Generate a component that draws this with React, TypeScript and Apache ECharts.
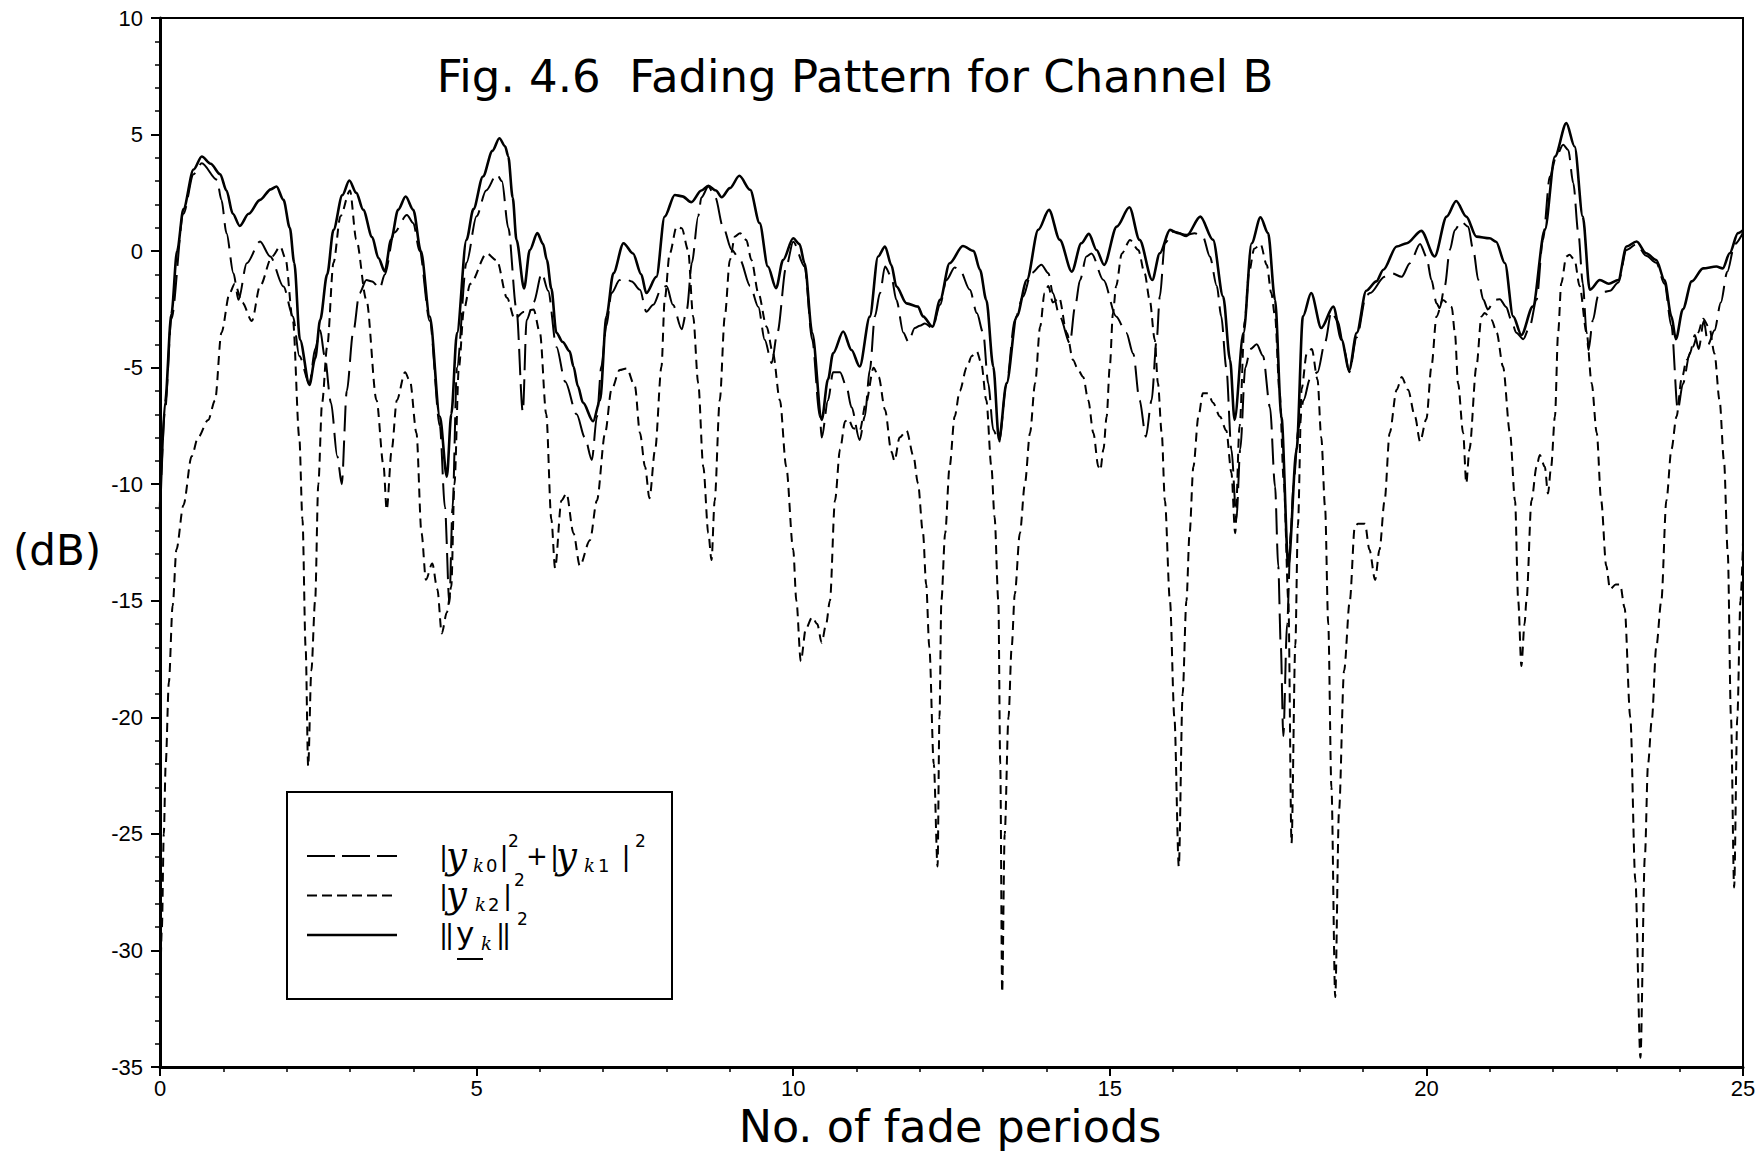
import React, { useEffect, useRef } from 'react';
import * as echarts from 'echarts';

// ---------- axis ranges ----------
const X_MIN = 0;
const X_MAX = 25;
const X_STEP = 5;
const Y_MIN = -35;
const Y_MAX = 10;
const Y_STEP = 5;

// ---------- texts ----------
const TITLE_TEXT = 'Fig. 4.6\u00a0 Fading Pattern for Channel B';
const X_NAME = 'No. of fade periods';
const Y_NAME = '(dB)';

// ---------- data: [fade periods, dB] ----------
// ||y_k||^2  (solid)
const TOTAL_NORM: [number, number][] = [
  [0, -11.1], [0.08, -6.5], [0.18, -2.7], [0.27, 0], [0.37, 1.8], [0.53, 3.5], [0.66, 4.06], [0.8, 3.75],
  [0.95, 3.3], [1.05, 2.6], [1.15, 1.6], [1.26, 1.08], [1.4, 1.6], [1.58, 2.2], [1.75, 2.65], [1.84, 2.77],
  [1.95, 2.2], [2.05, 1.0], [2.12, -0.5], [2.21, -3.8], [2.36, -5.74], [2.45, -4.6], [2.53, -2.95], [2.64, -1.0],
  [2.74, 0.91], [2.88, 2.4], [2.99, 3.03], [3.1, 2.5], [3.21, 1.77], [3.35, 0.6], [3.45, -0.3], [3.55, -0.87],
  [3.65, 0.5], [3.76, 1.77], [3.88, 2.34], [4.0, 1.77], [4.12, 0.0], [4.26, -2.81], [4.42, -7.1], [4.53, -9.68],
  [4.6, -7], [4.69, -3.52], [4.84, 0.48], [4.95, 1.8], [5.1, 3.2], [5.25, 4.3], [5.36, 4.84], [5.45, 4.5],
  [5.5, 4.06], [5.57, 2.3], [5.63, 0.48], [5.75, -1.6], [5.84, 0.05], [5.96, 0.77], [6.05, 0.3], [6.11, -0.38],
  [6.18, -1.6], [6.26, -3.5], [6.36, -3.9], [6.47, -4.3], [6.53, -4.95], [6.6, -5.8], [6.68, -6.5], [6.84, -7.3],
  [6.95, -6.4], [7.05, -2.8], [7.16, -0.95], [7.32, 0.34], [7.47, -0.1], [7.6, -1.0], [7.68, -1.8], [7.84, -1.1],
  [7.97, 1.48], [8.13, 2.41], [8.25, 2.35], [8.39, 2.1], [8.55, 2.6], [8.66, 2.8], [8.78, 2.6], [8.87, 2.31],
  [9.0, 2.7], [9.15, 3.23], [9.32, 2.63], [9.47, 1.2], [9.6, -0.66], [9.73, -1.59], [9.84, -0.38], [10.0, 0.55],
  [10.1, 0.3], [10.18, -0.52], [10.3, -3.5], [10.45, -7.24], [10.55, -5.5], [10.63, -4.38], [10.79, -3.45],
  [10.92, -4.24], [11.05, -4.95], [11.21, -2.81], [11.34, -0.23], [11.45, 0.2], [11.55, -0.6], [11.63, -1.52],
  [11.79, -2.24], [11.97, -2.38], [12.05, -2.8], [12.2, -3.24], [12.32, -2.09], [12.47, -0.52], [12.68, 0.22],
  [12.85, 0.0], [12.95, -0.8], [13.05, -2.1], [13.16, -4.95], [13.25, -8.1], [13.37, -5.67], [13.53, -2.8],
  [13.69, -1.24], [13.87, 0.91], [14.04, 1.77], [14.21, 0.48], [14.4, -0.88], [14.55, 0.34], [14.67, 0.74],
  [14.79, 0.05], [14.91, -0.59], [15.11, 1.05], [15.31, 1.88], [15.47, 0.48], [15.67, -1.24], [15.79, -0.09],
  [15.95, 0.91], [16.08, 0.77], [16.21, 0.65], [16.43, 1.48], [16.63, 0.48], [16.79, -1.95], [16.9, -4.67],
  [16.97, -7.24], [17.11, -3.52], [17.24, 0.34], [17.38, 1.45], [17.5, 0.77], [17.61, -2.09], [17.71, -7.1],
  [17.82, -13.5], [17.95, -8.5], [18.05, -2.8], [18.18, -1.8], [18.34, -3.3], [18.53, -2.38], [18.66, -3.8],
  [18.78, -5.1], [18.9, -3.5], [19.05, -1.7], [19.21, -1.3], [19.32, -0.8], [19.53, 0.2], [19.69, 0.34],
  [19.92, 0.87], [20.13, -0.23], [20.32, 1.48], [20.47, 2.15], [20.63, 1.48], [20.79, 0.62], [21.0, 0.55],
  [21.1, 0.4], [21.24, -0.52], [21.37, -2.8], [21.5, -3.6], [21.68, -2.38], [21.87, 0.91], [22.03, 4.06],
  [22.21, 5.49], [22.34, 4.49], [22.47, 1.48], [22.58, -1.66], [22.74, -1.24], [22.88, -1.4], [23.03, -1.24],
  [23.16, 0.2], [23.32, 0.41], [23.47, -0.09], [23.63, -0.38], [23.76, -1.24], [23.87, -2.8], [23.94, -3.78],
  [24.05, -2.5], [24.19, -1.3], [24.37, -0.74], [24.58, -0.66], [24.68, -0.74], [24.79, -0.09], [24.92, 0.77],
  [25, 0.9],
];

// |y_k0|^2 + |y_k1|^2  (long dashes)
const SUM_K0_K1: [number, number][] = [
  [0, -11.1], [0.08, -6.8], [0.18, -2.9], [0.37, 1.6], [0.53, 3.3], [0.66, 3.77], [0.9, 3.06], [0.97, 2.2],
  [1.05, 0.77], [1.16, -0.95], [1.24, -2.09], [1.37, -0.52], [1.58, 0.41], [1.74, -0.23], [1.95, -1.52],
  [2.1, -2.81], [2.2, -4.5], [2.36, -5.7], [2.45, -4.2], [2.53, -3.4], [2.6, -4.5], [2.7, -6.5], [2.8, -8.8],
  [2.87, -10.0], [2.95, -6.0], [3.05, -3.5], [3.15, -1.8], [3.26, -1.24], [3.35, -1.3], [3.47, -1.6],
  [3.55, -1.0], [3.7, 0.8], [3.9, 1.55], [4.0, 1.2], [4.1, 0.0], [4.26, -3.0], [4.42, -7.5], [4.5, -11],
  [4.57, -15.1], [4.62, -11], [4.69, -5.0], [4.84, -0.5], [5.0, 1.5], [5.15, 2.6], [5.32, 3.3], [5.4, 3.0],
  [5.5, 1.0], [5.63, -2.5], [5.73, -6.9], [5.79, -2.95], [5.9, -2.2], [6.03, -0.95], [6.13, -1.7], [6.26, -4.1],
  [6.4, -5.6], [6.58, -7.0], [6.71, -8.0], [6.82, -8.96], [6.9, -7.1], [6.97, -4.95], [7.05, -3.2], [7.13, -1.8],
  [7.26, -1.24], [7.34, -1.16], [7.45, -1.3], [7.58, -1.66], [7.68, -2.6], [7.79, -2.3], [7.92, -1.6],
  [8.0, -1.5], [8.1, -2.3], [8.24, -3.35], [8.32, -2.5], [8.4, -0.5], [8.5, 1.5], [8.55, 2.3], [8.66, 2.77],
  [8.77, 2.3], [8.89, 1.05], [9.03, 0.05], [9.16, -0.38], [9.32, -1.5], [9.45, -2.4], [9.55, -3.8],
  [9.66, -4.8], [9.75, -3.5], [9.89, -0.66], [10.0, 0.4], [10.18, -0.66], [10.3, -3.8], [10.42, -7.1],
  [10.45, -8.0], [10.55, -6.4], [10.63, -5.2], [10.74, -5.2], [10.84, -5.8], [10.92, -6.7], [11.05, -8.1],
  [11.13, -7.1], [11.21, -5.1], [11.29, -2.8], [11.37, -1.8], [11.45, -0.66], [11.55, -1.1], [11.63, -2.1],
  [11.74, -3.5], [11.82, -3.9], [11.92, -3.3], [12.0, -3.2], [12.08, -3.1], [12.2, -3.3], [12.32, -2.3],
  [12.42, -1.24], [12.55, -0.7], [12.63, -0.8], [12.79, -1.66], [12.9, -2.66], [13.0, -3.5], [13.08, -5.67],
  [13.16, -7.67], [13.25, -8.2], [13.37, -5.67], [13.5, -2.95], [13.63, -1.95], [13.76, -0.95], [13.92, -0.59],
  [14.03, -0.95], [14.1, -1.8], [14.21, -2.81], [14.37, -3.95], [14.45, -2.4], [14.53, -1.24], [14.63, -0.23],
  [14.71, -0.1], [14.9, -1.24], [15.1, -2.8], [15.26, -3.5], [15.37, -4.4], [15.47, -6.4], [15.57, -7.96],
  [15.66, -6.4], [15.74, -3.8], [15.79, -1.95], [15.87, 0.34], [16.0, 0.84], [16.21, 0.7], [16.34, 0.77],
  [16.47, 0.62], [16.58, -0.23], [16.69, -1.5], [16.76, -2.8], [16.84, -5.0], [16.92, -8.5], [17.0, -11.5],
  [17.06, -8.5], [17.14, -5.0], [17.22, -4.2], [17.32, -4.0], [17.42, -4.5], [17.53, -6.7], [17.61, -10.1],
  [17.66, -13.5], [17.7, -16.9], [17.74, -20.8], [17.8, -16], [17.86, -12], [17.9, -10], [17.98, -7.6],
  [18.06, -6.4], [18.16, -5.5], [18.28, -5.2], [18.4, -3.9], [18.5, -2.6], [18.6, -3.0], [18.7, -4.2],
  [18.78, -5.2], [18.9, -3.7], [19.05, -1.9], [19.11, -1.8], [19.34, -1.1], [19.45, -0.95], [19.61, -1.1],
  [19.74, -0.52], [19.9, 0.31], [20.0, -0.23], [20.08, -1.24], [20.16, -2.24], [20.21, -2.45], [20.29, -1.5],
  [20.37, 0.05], [20.45, 0.91], [20.55, 1.27], [20.66, 1.05], [20.74, 0.05], [20.82, -1.24], [20.9, -2.09],
  [20.97, -2.5], [21.08, -2.09], [21.16, -2.06], [21.26, -2.4], [21.34, -2.95], [21.42, -3.5], [21.53, -3.78],
  [21.63, -3.24], [21.74, -2.09], [21.84, 0.48], [21.95, 3.2], [22.05, 4.06], [22.16, 4.56], [22.24, 4.34],
  [22.32, 2.91], [22.4, 0.77], [22.47, -1.38], [22.53, -3.5], [22.56, -4.24], [22.63, -2.95], [22.71, -1.95],
  [22.82, -1.74], [22.9, -1.7], [23.03, -1.35], [23.16, 0.05], [23.32, 0.3], [23.47, -0.2], [23.63, -0.5],
  [23.76, -1.4], [23.87, -3.2], [23.97, -6.8], [24.05, -5.7], [24.16, -4.4], [24.24, -3.6], [24.3, -4.2],
  [24.38, -3.0], [24.45, -4.0], [24.55, -3.4], [24.65, -2.2], [24.75, -0.9], [24.87, 0.3], [25, 0.8],
];

// |y_k2|^2  (short dashes)
const K2_POWER: [number, number][] = [
  [0, -32.2], [0.03, -29], [0.06, -25], [0.09, -22], [0.14, -18.5], [0.2, -15.2], [0.26, -12.8], [0.37, -10.9],
  [0.5, -8.8], [0.6, -8.0], [0.76, -7.25], [0.87, -6.4], [0.97, -3.5], [1.1, -1.8], [1.18, -1.4], [1.3, -2.2],
  [1.45, -3.0], [1.58, -1.5], [1.77, -0.23], [1.9, 0.2], [1.98, -0.3], [2.1, -3.0], [2.2, -8], [2.25, -11.5],
  [2.3, -17], [2.34, -22.1], [2.39, -18], [2.45, -15], [2.5, -10], [2.56, -6.5], [2.64, -4.1], [2.74, -0.5],
  [2.85, 1.5], [3.0, 2.6], [3.1, 0.5], [3.26, -2.1], [3.42, -6.4], [3.53, -9.2], [3.58, -11.1], [3.66, -8.5],
  [3.74, -6.4], [3.87, -5.2], [3.95, -5.6], [4.05, -7.8], [4.13, -12.1], [4.2, -14.1], [4.3, -13.4],
  [4.38, -14.5], [4.45, -16.4], [4.53, -15.5], [4.6, -14.4], [4.65, -10], [4.72, -5], [4.8, -2.5], [4.9, -1.4],
  [5.16, -0.1], [5.32, -0.4], [5.48, -2.0], [5.6, -2.9], [5.75, -2.6], [5.9, -2.5], [6.0, -3.5], [6.1, -7],
  [6.18, -11.5], [6.24, -13.6], [6.34, -10.7], [6.42, -10.4], [6.53, -12.1], [6.63, -13.5], [6.79, -12.4],
  [6.9, -10.7], [7.03, -7.8], [7.13, -5.95], [7.26, -5.1], [7.37, -5.03], [7.5, -5.8], [7.58, -7.8],
  [7.66, -9.25], [7.73, -10.6], [7.82, -8.5], [7.92, -4.95], [7.97, -2.1], [8.05, -0.1], [8.16, 1.05],
  [8.24, 0.98], [8.34, 0.05], [8.42, -2.8], [8.5, -5.67], [8.58, -9.25], [8.66, -12.1], [8.71, -13.25],
  [8.76, -10.7], [8.84, -6.4], [8.92, -2.8], [9.0, -0.38], [9.08, 0.63], [9.16, 0.77], [9.26, 0.48],
  [9.34, -0.38], [9.45, -1.8], [9.58, -3.24], [9.68, -4.38], [9.79, -6.4], [9.89, -9.25], [10.0, -12.8],
  [10.05, -15], [10.12, -17.6], [10.2, -16.2], [10.3, -15.7], [10.38, -16], [10.45, -16.8], [10.52, -16.0],
  [10.58, -15], [10.66, -10.7], [10.74, -8.5], [10.82, -7.3], [10.87, -7.2], [10.95, -7.6], [11.05, -7.7],
  [11.15, -6.5], [11.27, -5.0], [11.35, -5.4], [11.45, -6.8], [11.55, -8.6], [11.6, -9.0], [11.68, -8.0],
  [11.79, -7.7], [11.9, -8.8], [11.97, -9.96], [12.05, -12.1], [12.1, -14.3], [12.15, -17], [12.22, -22],
  [12.28, -26.4], [12.31, -20], [12.34, -15], [12.4, -12.1], [12.47, -9.25], [12.55, -7.1], [12.63, -6.0],
  [12.74, -5.0], [12.82, -4.5], [12.9, -4.3], [12.97, -4.8], [13.05, -6.4], [13.13, -9.25], [13.18, -11.4],
  [13.24, -15], [13.27, -22], [13.3, -31.8], [13.34, -25], [13.4, -20], [13.45, -17], [13.5, -14.7],
  [13.58, -12.1], [13.66, -9.96], [13.74, -7.8], [13.82, -5.67], [13.9, -3.24], [13.97, -1.8], [14.03, -1.5],
  [14.1, -2.2], [14.2, -2.0], [14.32, -3.5], [14.42, -4.67], [14.5, -5.1], [14.58, -5.4], [14.66, -6.4],
  [14.74, -7.8], [14.82, -9.25], [14.85, -9.4], [14.9, -8.5], [14.95, -7.1], [15.0, -4.95], [15.05, -2.66],
  [15.1, -1.5], [15.19, -0.1], [15.32, 0.48], [15.45, 0.05], [15.55, -0.95], [15.63, -2.09], [15.71, -3.8],
  [15.76, -5.67], [15.82, -7.8], [15.87, -10.7], [15.95, -15], [16.02, -20], [16.09, -26.4], [16.15, -19],
  [16.21, -15], [16.26, -12.1], [16.32, -9.25], [16.4, -7.1], [16.47, -6.1], [16.55, -6.1], [16.63, -6.5],
  [16.74, -7.1], [16.84, -7.7], [16.92, -9.5], [16.98, -12.1], [17.05, -7.5], [17.13, -3.0], [17.2, -0.9],
  [17.28, 0.1], [17.38, 0.3], [17.48, -0.6], [17.55, -1.8], [17.61, -2.8], [17.68, -6], [17.75, -10],
  [17.82, -15], [17.87, -25.4], [17.93, -16.9], [17.97, -11.8], [18.03, -5.9], [18.11, -4.4], [18.19, -4.2],
  [18.28, -5.5], [18.34, -8], [18.4, -11], [18.45, -16], [18.5, -23], [18.56, -32], [18.62, -24], [18.7, -18],
  [18.79, -15], [18.87, -11.8], [18.92, -11.7], [19.03, -11.7], [19.1, -12.8], [19.19, -14.1], [19.26, -12.8],
  [19.34, -10.7], [19.42, -7.8], [19.53, -5.95], [19.61, -5.4], [19.71, -5.95], [19.82, -7.1], [19.9, -8.17],
  [20.0, -7.2], [20.08, -4.95], [20.16, -2.8], [20.26, -2.1], [20.4, -2.4], [20.45, -3.5], [20.5, -5.67],
  [20.58, -7.8], [20.63, -9.96], [20.68, -8.5], [20.79, -4.95], [20.87, -2.8], [20.92, -2.66], [21.03, -2.95],
  [21.11, -3.5], [21.21, -4.95], [21.32, -7.8], [21.4, -10.7], [21.45, -15], [21.5, -17.8], [21.55, -16],
  [21.58, -15], [21.66, -10.7], [21.74, -9.25], [21.79, -8.75], [21.87, -9.25], [21.92, -10.4], [21.97, -9.25],
  [22.03, -7.1], [22.08, -3.5], [22.13, -1.38], [22.21, -0.23], [22.26, -0.16], [22.34, -0.38], [22.42, -1.5],
  [22.53, -3.5], [22.61, -5.67], [22.69, -7.8], [22.76, -10.7], [22.84, -13.5], [22.9, -14.5], [22.99, -14.3],
  [23.06, -14.3], [23.13, -15.3], [23.22, -20], [23.3, -27], [23.38, -34.6], [23.45, -26], [23.5, -22],
  [23.56, -20.1], [23.63, -17], [23.71, -15], [23.79, -10.7], [23.87, -8.5], [23.95, -7.1], [24.03, -5.5],
  [24.11, -4.67], [24.21, -4.1], [24.29, -3.5], [24.37, -2.9], [24.47, -3.3], [24.55, -4.4], [24.63, -6.4],
  [24.7, -9], [24.76, -13], [24.81, -20], [24.86, -27.3], [24.91, -20], [24.96, -15], [25, -12.5],
];

const SANS = "'DejaVu Sans', 'Liberation Sans', sans-serif";
const SERIF = "'DejaVu Serif', 'Liberation Serif', serif";
const TICK_FONT = "'Liberation Sans', 'DejaVu Sans', sans-serif";

type Piece = { t: string; x: number; y: number; s: number; f: string; it?: boolean };

const txt = (p: Piece) => ({
  type: 'text',
  z: 20,
  style: {
    text: p.t,
    x: p.x,
    y: p.y,
    font: `${p.it ? 'italic ' : ''}${p.s}px ${p.f}`,
    fill: '#000',
    align: 'left',
    verticalAlign: 'middle',
    textAlign: 'left',
    textVerticalAlign: 'middle',
  },
});

function buildLegend() {
  const r1 = 855;
  const r2 = 894;
  const r3 = 933;
  const sub = 10;
  const sup = -14;
  const pieces: Piece[] = [
    // |y_k0|^2 + |y_k1|^2
    { t: '|', x: 439, y: r1, s: 27, f: SANS },
    { t: 'y', x: 446, y: r1, s: 37, f: SERIF, it: true },
    { t: 'k', x: 473, y: r1 + sub, s: 18, f: SERIF, it: true },
    { t: '0', x: 486, y: r1 + sub, s: 18, f: SANS },
    { t: '|', x: 499.5, y: r1, s: 27, f: SANS },
    { t: '2', x: 508, y: r1 + sup, s: 17, f: SANS },
    { t: '+', x: 526, y: r1 + 1, s: 26, f: SANS },
    { t: '|', x: 550, y: r1, s: 27, f: SANS },
    { t: 'y', x: 556, y: r1, s: 37, f: SERIF, it: true },
    { t: 'k', x: 584, y: r1 + sub, s: 18, f: SERIF, it: true },
    { t: '1', x: 598, y: r1 + sub, s: 18, f: SANS },
    { t: '|', x: 621.5, y: r1, s: 27, f: SANS },
    { t: '2', x: 635, y: r1 + sup, s: 17, f: SANS },
    // |y_k2|^2
    { t: '|', x: 439, y: r2, s: 27, f: SANS },
    { t: 'y', x: 446, y: r2, s: 37, f: SERIF, it: true },
    { t: 'k', x: 475, y: r2 + sub, s: 18, f: SERIF, it: true },
    { t: '2', x: 488, y: r2 + sub, s: 18, f: SANS },
    { t: '|', x: 503, y: r2, s: 27, f: SANS },
    { t: '2', x: 514, y: r2 + sup, s: 17, f: SANS },
    // ||y_k||^2
    { t: '|', x: 439, y: r3, s: 27, f: SANS },
    { t: '|', x: 445, y: r3, s: 27, f: SANS },
    { t: 'y', x: 456, y: r3, s: 31, f: SANS },
    { t: 'k', x: 481, y: r3 + sub, s: 18, f: SERIF, it: true },
    { t: '|', x: 496, y: r3, s: 27, f: SANS },
    { t: '|', x: 502, y: r3, s: 27, f: SANS },
    { t: '2', x: 517, y: r3 + sup, s: 17, f: SANS },
  ];
  const els: any[] = [
    {
      type: 'rect',
      z: 15,
      shape: { x: 287, y: 792, width: 385, height: 207 },
      style: { fill: '#fff', stroke: '#000', lineWidth: 2 },
    },
    {
      type: 'line', z: 20,
      shape: { x1: 307, y1: 856, x2: 397, y2: 856 },
      style: { stroke: '#000', lineWidth: 2, lineDash: [28, 7] },
    },
    {
      type: 'line', z: 20,
      shape: { x1: 307, y1: 895.5, x2: 397, y2: 895.5 },
      style: { stroke: '#000', lineWidth: 2, lineDash: [10, 5] },
    },
    {
      type: 'line', z: 20,
      shape: { x1: 307, y1: 935, x2: 397, y2: 935 },
      style: { stroke: '#000', lineWidth: 2.5 },
    },
    {
      type: 'line', z: 20,
      shape: { x1: 457, y1: 959, x2: 483, y2: 959 },
      style: { stroke: '#000', lineWidth: 2 },
    },
  ];
  return els.concat(pieces.map(txt));
}

export default function App() {
  const ref = useRef<HTMLDivElement>(null);

  useEffect(() => {
    if (!ref.current) return;
    const chart = echarts.init(ref.current, null, { renderer: 'svg' });

    const axisCommon = {
      type: 'value',
      axisLine: { show: true, onZero: false, lineStyle: { color: '#000', width: 3 } },
      axisTick: { show: true, inside: false, length: 9, lineStyle: { color: '#000', width: 2 } },
      minorTick: { show: true, splitNumber: 5, length: 5, lineStyle: { color: '#000', width: 1.5 } },
      splitLine: { show: false },
      minorSplitLine: { show: false },
      axisLabel: { color: '#000', fontSize: 22, fontFamily: TICK_FONT },
    };

    const lineSeries = (name: string, data: [number, number][], width: number, dash: any) => ({
      name,
      type: 'line',
      data,
      showSymbol: false,
      symbol: 'none',
      smooth: 0.3,
      smoothMonotone: 'x',
      lineStyle: { color: '#000', width, type: dash },
      emphasis: { disabled: true },
      z: 3,
    });

    chart.setOption({
      animation: false,
      backgroundColor: '#fff',
      grid: {
        left: 160, top: 18, width: 1583, height: 1049,
        show: true, borderColor: '#000', borderWidth: 2, backgroundColor: 'transparent',
      },
      xAxis: {
        ...axisCommon,
        min: X_MIN, max: X_MAX, interval: X_STEP,
        axisLabel: { ...axisCommon.axisLabel, margin: 10 },
      },
      yAxis: {
        ...axisCommon,
        min: Y_MIN, max: Y_MAX, interval: Y_STEP,
        axisLabel: { ...axisCommon.axisLabel, margin: 17 },
      },
      series: [
        lineSeries('|y_k0|^2+|y_k1|^2', SUM_K0_K1, 2, [26, 9]),
        lineSeries('|y_k2|^2', K2_POWER, 2, [9, 6]),
        lineSeries('||y_k||^2', TOTAL_NORM, 2.6, 'solid'),
      ],
      graphic: [
        {
          type: 'text', z: 20,
          style: {
            text: TITLE_TEXT, x: 855, y: 76, font: `45px ${SANS}`, fill: '#000',
            align: 'center', verticalAlign: 'middle', textAlign: 'center', textVerticalAlign: 'middle',
          },
        },
        {
          type: 'text', z: 20,
          style: {
            text: X_NAME, x: 950, y: 1126, font: `44.5px ${SANS}`, fill: '#000',
            align: 'center', verticalAlign: 'middle', textAlign: 'center', textVerticalAlign: 'middle',
          },
        },
        {
          type: 'text', z: 20,
          style: {
            text: Y_NAME, x: 57, y: 550, font: `42px ${SANS}`, fill: '#000',
            align: 'center', verticalAlign: 'middle', textAlign: 'center', textVerticalAlign: 'middle',
          },
        },
        ...buildLegend(),
      ],
    });

    return () => chart.dispose();
  }, []);

  return (
    <div
      ref={ref}
      style={{ position: 'absolute', left: 0, top: 0, width: 1764, height: 1161, background: '#fff' }}
    />
  );
}
